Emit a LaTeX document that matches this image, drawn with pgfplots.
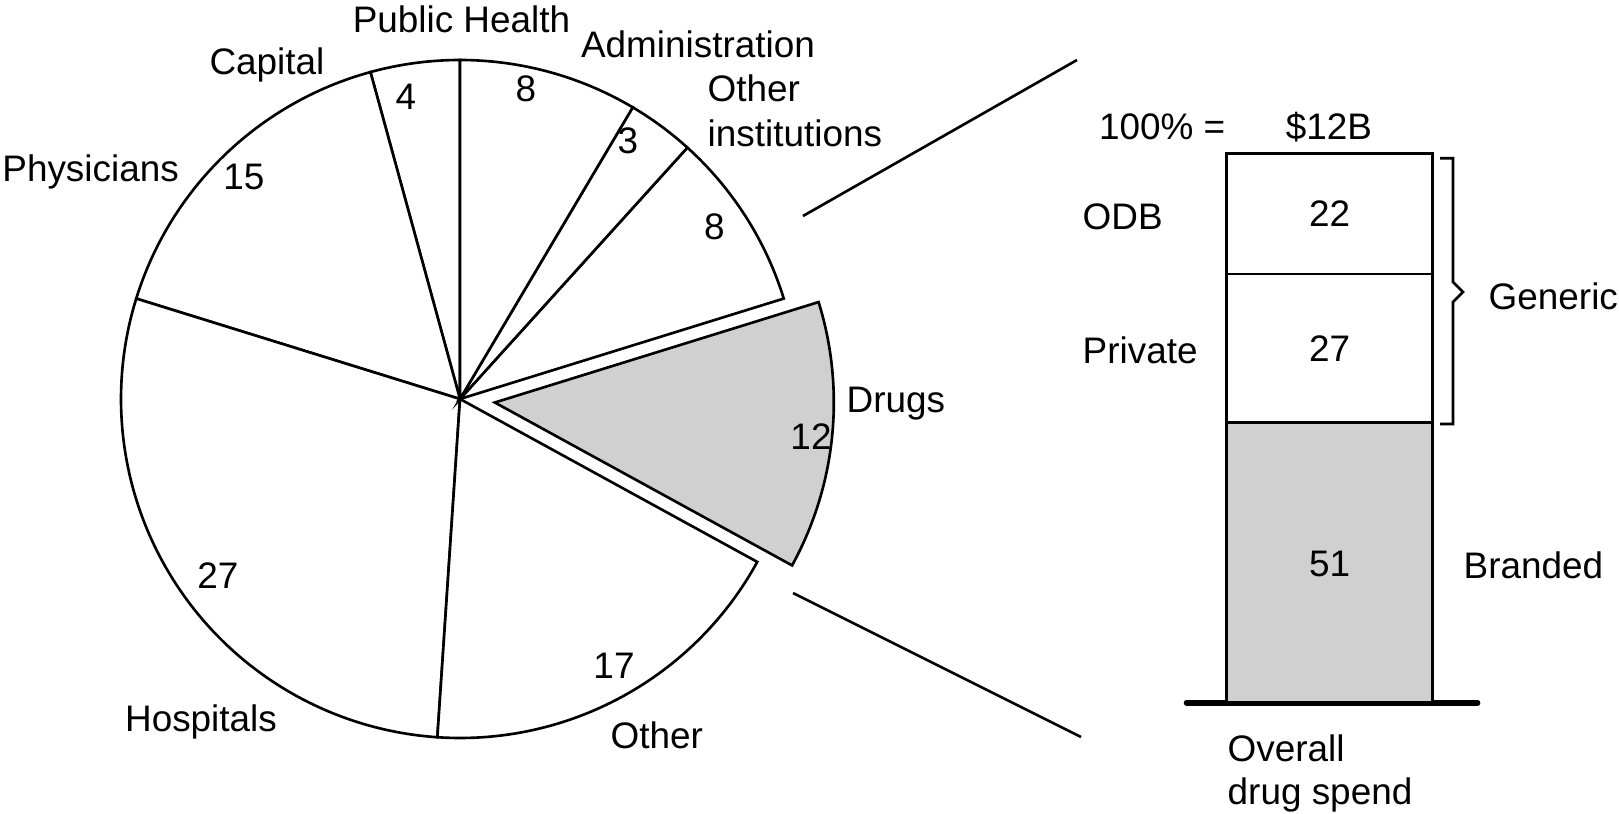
\documentclass[border=0pt]{standalone}
\usepackage{fontspec}
\setmainfont{Liberation Sans}
\usepackage{pgfplots}
\pgfplotsset{compat=1.18}
\definecolor{drug}{RGB}{208,208,208}
\begin{document}
\begin{tikzpicture}[lw/.style={line width=0.75pt},
  every node/.style={font=\fontsize{10.5}{12.8}\selectfont, inner sep=0pt}]
\begin{axis}[name=canvas, width=16.19cm, height=8.14cm, scale only axis,
  xmin=0, xmax=1619, ymin=0, ymax=814, y dir=reverse, hide axis, clip=false]
% pie: share values (Capital, Physicians, Hospitals, Other, Drugs, Other institutions, Administration, Public Health)
\gdef\angA{90}
\foreach \v/\fillc/\off in {4/white/0,15/white/0,27/white/0,17/white/0,12/drug/35,8/white/0,3/white/0,8/white/0}{
  \pgfmathsetmacro\angB{\angA+\v*360/94}
  \pgfmathsetmacro\angM{(\angA+\angB)/2}
  \pgfmathsetmacro\cx{460+\off*cos(\angM)}
  \pgfmathsetmacro\cy{399-\off*sin(\angM)}
  \edef\temp{\noexpand\draw[lw, fill=\fillc, line join=miter] (axis cs:\cx,\cy) -- ++(\angA:3.39cm) arc[start angle=\angA, end angle=\angB, radius=3.39cm] -- cycle;}
  \temp
  \xdef\angA{\angB}
}
% pie labels
\node[anchor=base] at (axis cs:461.5,32.5) {Public Health};
\node[anchor=base] at (axis cs:267,75) {Capital};
\node[anchor=base] at (axis cs:406,110) {4};
\node[anchor=base] at (axis cs:526,101.7) {8};
\node[anchor=base] at (axis cs:244,190) {15};
\node[anchor=base east] at (axis cs:179.5,182) {Physicians};
\node[anchor=base] at (axis cs:698,58) {Administration};
\node[anchor=base west] at (axis cs:707,102) {Other};
\node[anchor=base west] at (axis cs:707,147) {institutions};
\node[anchor=base] at (axis cs:628,153.3) {3};
\node[anchor=base] at (axis cs:714.5,240) {8};
\node[anchor=base west] at (axis cs:846,413) {Drugs};
\node[anchor=base] at (axis cs:811,450) {12};
\node[anchor=base] at (axis cs:218,588) {27};
\node[anchor=base] at (axis cs:201,731) {Hospitals};
\node[anchor=base] at (axis cs:614,678.3) {17};
\node[anchor=base west] at (axis cs:610,748) {Other};
% connector lines
\draw[lw] (axis cs:803,216) -- (axis cs:1077,60);
\draw[lw] (axis cs:793,593) -- (axis cs:1081,737);
% bar labels outside the bar
\node[anchor=base east] at (axis cs:1226,140) {100\% =};
\node[anchor=base] at (axis cs:1329,140) {\$12B};
\node[anchor=base west] at (axis cs:1082,230) {ODB};
\node[anchor=base west] at (axis cs:1082,364) {Private};
\node[anchor=base west] at (axis cs:1463,578) {Branded};
\node[anchor=base west] at (axis cs:1488,310) {Generic};
\node[anchor=base west] at (axis cs:1227,761.7) {Overall};
\node[anchor=base west] at (axis cs:1227,804) {drug spend};
% bracket
\draw[lw, line join=miter] (axis cs:1440,158.3) -- (axis cs:1453,158.3) -- (axis cs:1453,282) -- (axis cs:1463,292) -- (axis cs:1453,302) -- (axis cs:1453,424) -- (axis cs:1440,424);
\coordinate (barSW) at (axis cs:1226.7,702.7);
\coordinate (lODB) at (axis cs:1329.7,226.7);
\coordinate (lPriv) at (axis cs:1329.7,361.7);
\coordinate (lBrand) at (axis cs:1329.7,576.7);
\end{axis}
\begin{axis}[at={(barSW)}, anchor=south west, width=2.06cm, height=5.494cm, scale only axis,
  xmin=-0.5, xmax=0.5, ymin=0, ymax=100, hide axis, clip=false,
  ybar stacked, bar width=1]
\addplot[lw, draw=black, fill=drug] coordinates {(0,51)};
\addplot[lw, draw=black, fill=white] coordinates {(0,27)};
\addplot[lw, draw=black, fill=white] coordinates {(0,22)};
\draw[line width=1.6pt, line cap=round] (axis cs:-0.695,0) -- (axis cs:0.718,0);
\end{axis}
\node[anchor=base] at (lODB) {22};
\node[anchor=base] at (lPriv) {27};
\node[anchor=base] at (lBrand) {51};
\pgfresetboundingbox
\path (canvas.south west) rectangle (canvas.north east);
\end{tikzpicture}
\end{document}
